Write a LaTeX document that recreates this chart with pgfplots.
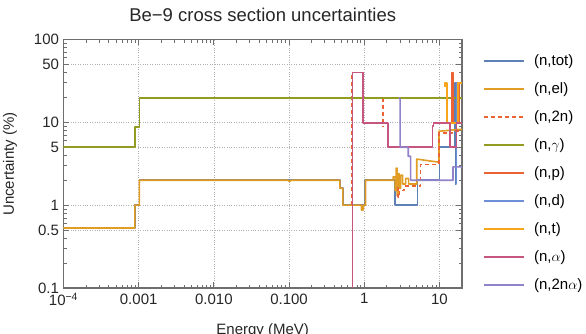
\documentclass[border=0pt]{standalone}
\usepackage{fontspec}
\setmainfont{Liberation Sans}
\usepackage{pgfplots}
\pgfplotsset{compat=1.18}
\definecolor{ctot}{RGB}{94,129,181}
\definecolor{cel}{RGB}{225,156,36}
\definecolor{ctwon}{RGB}{235,98,53}
\definecolor{cgam}{RGB}{147,156,34}
\definecolor{cp}{RGB}{235,98,53}
\definecolor{cd}{RGB}{109,143,216}
\definecolor{ct}{RGB}{249,165,26}
\definecolor{calpha}{RGB}{198,85,128}
\definecolor{ctwona}{RGB}{146,130,201}
\definecolor{cframe}{RGB}{110,110,110}

\pgfplotsset{
  every axis plot post/.append style={
    line width=1.6pt, line join=round,
    legend image code/.code={\draw[##1] (0pt,0pt) -- (40pt,0pt); \path (49.5pt,0pt);}
  }
}

\pgfplotstableread{
E U
1e-4 0.53
0.00089 0.53
0.00089 1.0
0.00102 1.0
0.00102 2.0
0.475 2.0
0.475 1.6
0.52 1.6
0.52 1.0
1.02 1.0
1.02 2.0
2.56 2.0
2.56 1.0
5.13 1.0
5.13 2.0
10.0 2.0
10.0 5.0
16.0 5.0
16.0 30
16.6 30
16.6 1.8
16.2 1.8
}\tot
\pgfplotstableread{
E U
1e-4 0.53
0.00089 0.53
0.00089 1.0
0.00102 1.0
0.00102 2.0
0.098 2.0
0.098 1.96
0.105 1.96
0.105 2.0
0.475 2.0
0.475 1.6
0.52 1.6
0.52 1.0
0.92 1.0
0.92 0.87
0.97 0.87
0.97 1.0
1.04 1.0
1.04 2.0
2.43 2.0
2.43 2.2
2.58 2.2
2.58 1.5
2.66 1.5
2.66 2.8
2.74 2.8
2.74 1.3
2.82 1.3
2.82 2.4
2.92 2.4
2.92 1.6
3.05 1.6
3.05 2.3
3.25 2.3
3.25 1.8
3.55 1.8
3.55 2.1
3.9 2.1
3.9 1.8
5.0 1.8
5.0 3.6
9.9 3.3
9.9 7.8
17.8 8.2
20 8.2
}\el
\pgfplotstableread{
E U
0.69 1.0
0.69 40
0.97 40
0.97 19.8
1.79 19.8
1.79 8.7
}\twonA
\pgfplotstableread{
E U
2.7 1.6
2.8 1.6
2.8 1.25
2.95 1.25
2.95 1.5
3.4 1.5
3.4 1.7
5.6 1.7
5.6 3.1
9.9 3.1
9.9 7.4
15 7.4
15 7.8
18 7.8
}\twonB
\pgfplotstableread{
E U
1e-4 5
0.00089 5
0.00089 8.8
0.00102 8.8
0.00102 19.8
20 19.8
}\gam
\pgfplotstableread{
E U
14.8 9.8
14.8 40
15.3 40
15.3 9.8
18.6 9.8
18.6 30
20 30
}\np
\pgfplotstableread{
E U
17.0 1.8
17.0 30
18.0 30
18.0 9.8
20 9.8
}\nd
\pgfplotstableread{
E U
11.9 27
11.9 30
12.7 30
12.7 9.8
17.8 9.8
17.8 30
20 30
}\nt
\pgfplotstableread{
E U
0.70 0.01
0.70 40
0.97 40
0.97 9.8
2.08 9.8
2.08 5
8.1 5
8.1 9
8.4 9
8.4 9.8
13.8 9.8
13.8 5
17 5
17 9.8
20 9.8
}\na
\pgfplotstableread{
E U
2.9 19.8
3.0 19.3
3.0 5
3.85 5
3.85 3.9
4.14 3.9
4.14 2.0
15.2 2.0
15.2 2.9
20 2.9
}\tna

\begin{document}
\begin{tikzpicture}
\path[use as bounding box] (0,0) rectangle (586pt,334pt);
\begin{axis}[
  at={(63.5pt,46pt)}, anchor=south west,
  scale only axis, width=398.5pt, height=248.5pt,
  xmode=log, ymode=log,
  xmin=1e-4, xmax=20, ymin=0.1, ymax=100,
  axis line style={draw=cframe, line width=1.2pt},
  tick style={draw=cframe, line width=0.8pt},
  major tick length=6pt, minor tick length=3.5pt,
  tick align=inside, tick pos=both, ticklabel pos=left,
  xtick={1e-4,0.001,0.01,0.1,1,10},
  xticklabels={10\textsuperscript{−4},0.001,0.010,0.100,1,10},
  ytick={0.1,0.5,1,5,10,50,100},
  yticklabels={0.1,0.5,1,5,10,50,100},
  minor xtick={2e-4,3e-4,4e-4,5e-4,6e-4,7e-4,8e-4,9e-4,0.002,0.003,0.004,0.005,0.006,0.007,0.008,0.009,0.02,0.03,0.04,0.05,0.06,0.07,0.08,0.09,0.2,0.3,0.4,0.5,0.6,0.7,0.8,0.9,2,3,4,5,6,7,8,9},
  minor ytick={0.2,0.3,0.4,0.6,0.7,0.8,0.9,2,3,4,6,7,8,9,20,30,40,60,70,80,90},
  grid=major,
  major grid style={dotted, draw=black!30, line width=0.6pt},
  ticklabel style={font=\fontsize{15}{17}\selectfont, text=black!85},
  xticklabel style={yshift=-2pt},
  yticklabel style={xshift=-1pt},
  legend style={draw=none, fill=none, at={(1.0527,0.4616)}, anchor=west,
    inner sep=0pt, outer sep=0pt, row sep=13.5pt,
    font=\fontsize{15}{17}\selectfont,
    nodes={inner sep=0pt, text height=11pt, text depth=3.5pt}},
  legend cell align=left,
]
\addplot[ctot] table[x=E,y=U] {\tot};
\addlegendentry{(n,tot)}
\addplot[cel] table[x=E,y=U] {\el};
\addlegendentry{(n,el)}
\addplot[ctwon, dash pattern=on 4pt off 3pt] table[x=E,y=U] {\twonA};
\addlegendentry{(n,2n)}
\addplot[ctwon, dash pattern=on 4pt off 3pt, forget plot] table[x=E,y=U] {\twonB};
\addplot[cgam] table[x=E,y=U] {\gam};
\addlegendentry{(n,$\gamma$)}
\addplot[cp] table[x=E,y=U] {\np};
\addlegendentry{(n,p)}
\addplot[cd] table[x=E,y=U] {\nd};
\addlegendentry{(n,d)}
\addplot[ct] table[x=E,y=U] {\nt};
\addlegendentry{(n,t)}
\addplot[calpha] table[x=E,y=U] {\na};
\addlegendentry{(n,$\alpha$)}
\addplot[ctwona] table[x=E,y=U] {\tna};
\addlegendentry{(n,2n$\alpha$)}
\end{axis}
\node[font=\fontsize{18.5}{20}\selectfont, text=black!85] at (262.7pt,319.5pt) {Be−9 cross section uncertainties};
\node[font=\fontsize{15}{17}\selectfont, text=black!85, rotate=90] at (10pt,170pt) {Uncertainty (\%)};
\node[font=\fontsize{15}{17}\selectfont, text=black!85, anchor=north, inner sep=0pt] at (262.7pt,11pt) {Energy (MeV)};
\end{tikzpicture}
\end{document}
